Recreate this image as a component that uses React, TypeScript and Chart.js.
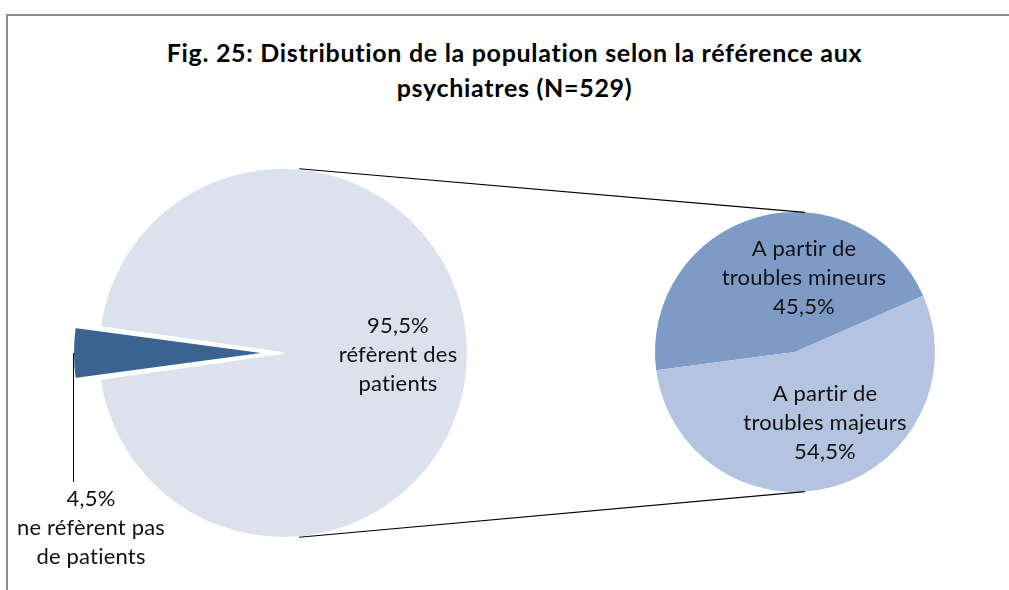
import React, { useEffect, useRef } from 'react';
import { Chart, registerables } from 'chart.js';

Chart.register(...registerables);

// ---- data ----
const titleLines = ['Fig. 25: Distribution de la population selon la référence aux', 'psychiatres (N=529)'];

const mainCategories = ['ne réfèrent pas de patients', 'réfèrent des patients'];
const mainValues = [4.5, 95.5];
const mainLabelText = [['ne réfèrent pas', 'de patients'], ['réfèrent des', 'patients']];

const subCategories = ['A partir de troubles mineurs', 'A partir de troubles majeurs'];
const subValues = [45.5, 54.5];
const subLabelText = [['A partir de', 'troubles mineurs'], ['A partir de', 'troubles majeurs']];

// ---- styles ----
const MAIN_COLORS = ['#3B6392', '#DCE1EE'];
const SUB_COLORS = ['#7E9BC8', '#B4C3DF'];
const FONT_FAMILY = 'Lato, "Open Sans", sans-serif';
const LABEL_FONT = `22px ${FONT_FAMILY}`;
const LINE_H = 29;
const EXPLODE_PX = 25;

const fmt = (v: number) => `${v.toFixed(1).replace('.', ',')}%`;

function explodeOffsetFor(value: number, total: number) {
  const circ = (value / total) * Math.PI * 2;
  const fix = 1 - Math.sin(Math.min(Math.PI, circ));
  return (EXPLODE_PX * 4) / (1 + fix);
}

function drawLines(ctx: CanvasRenderingContext2D, lines: string[], x: number, y: number) {
  ctx.save();
  ctx.font = LABEL_FONT;
  (ctx as any).letterSpacing = '0.2px';
  ctx.fillStyle = '#111';
  ctx.textAlign = 'center';
  ctx.textBaseline = 'alphabetic';
  lines.forEach((l, i) => ctx.fillText(l, x, y + i * LINE_H));
  ctx.restore();
}

export default function App() {
  const mainRef = useRef<HTMLCanvasElement>(null);
  const subRef = useRef<HTMLCanvasElement>(null);

  useEffect(() => {
    const total = mainValues.reduce((a, b) => a + b, 0);
    const smallDeg = (mainValues[0] / total) * 360;

    const mainLabels = {
      id: 'mainLabels',
      afterDatasetsDraw(chart: any) {
        const ctx = chart.ctx as CanvasRenderingContext2D;
        const arcs = chart.getDatasetMeta(0).data as any[];
        const a0 = arcs[0];
        const cx = a0.x, cy = a0.y, r = a0.outerRadius;
        const mid = (a0.startAngle + a0.endAngle) / 2;
        const px = cx + Math.cos(mid) * (r + EXPLODE_PX);
        const py = cy + Math.sin(mid) * (r + EXPLODE_PX);
        ctx.save();
        ctx.strokeStyle = '#000';
        ctx.lineWidth = 1;
        ctx.beginPath();
        ctx.moveTo(Math.round(px) + 0.5, py);
        ctx.lineTo(Math.round(px) + 0.5, py + 129);
        ctx.stroke();
        ctx.restore();
        drawLines(ctx, [fmt(mainValues[0]), ...mainLabelText[0]], px + 18, py + 153);
        drawLines(ctx, [fmt(mainValues[1]), ...mainLabelText[1]], cx + 115, cy - 20);
      },
    };

    const mainChart = new Chart(mainRef.current!, {
      type: 'pie',
      data: {
        labels: mainCategories,
        datasets: [
          {
            data: mainValues,
            backgroundColor: MAIN_COLORS,
            borderColor: '#ffffff',
            borderWidth: 2,
            offset: [explodeOffsetFor(mainValues[0], total), 0],
            radius: 185,
            rotation: 270 - smallDeg / 2,
          } as any,
        ],
      },
      options: {
        responsive: false,
        maintainAspectRatio: false,
        animation: false,
        layout: { padding: 0 },
        plugins: { legend: { display: false }, tooltip: { enabled: false }, title: { display: false } },
      },
      plugins: [mainLabels],
    });

    const subLabels = {
      id: 'subLabels',
      afterDraw(chart: any) {
        const ctx = chart.ctx as CanvasRenderingContext2D;
        const arcs = chart.getDatasetMeta(0).data as any[];
        const cx = arcs[0].x, cy = arcs[0].y, r = arcs[0].outerRadius;
        drawLines(ctx, [...subLabelText[0], fmt(subValues[0])], cx + 9, cy - 96);
        drawLines(ctx, [...subLabelText[1], fmt(subValues[1])], cx + 30, cy + 49);
        // connector lines from main pie
        const m = mainChart.getDatasetMeta(0).data[1] as any;
        const mcx = m.x, mcy = m.y, mr = m.outerRadius;
        const d2r = Math.PI / 180;
        ctx.save();
        ctx.strokeStyle = '#000';
        ctx.lineWidth = 1.1;
        [-1, 1].forEach((s) => {
          ctx.beginPath();
          ctx.moveTo(mcx + mr * Math.cos(s * 85 * d2r), mcy + mr * Math.sin(s * 85 * d2r));
          ctx.lineTo(cx + r * Math.cos(s * 86 * d2r), cy + r * Math.sin(s * 86 * d2r));
          ctx.stroke();
        });
        ctx.restore();
      },
    };

    const subChart = new Chart(subRef.current!, {
      type: 'pie',
      data: {
        labels: subCategories,
        datasets: [
          {
            data: subValues,
            backgroundColor: SUB_COLORS,
            borderWidth: 0,
            radius: 140,
            rotation: 262.5,
          } as any,
        ],
      },
      options: {
        responsive: false,
        maintainAspectRatio: false,
        animation: false,
        layout: { padding: 0 },
        plugins: { legend: { display: false }, tooltip: { enabled: false }, title: { display: false } },
      },
      plugins: [subLabels],
    });

    return () => {
      subChart.destroy();
      mainChart.destroy();
    };
  }, []);

  return (
    <div style={{ position: 'fixed', left: 0, top: 0, width: 1009, height: 590, overflow: 'hidden', background: '#fff' }}>
      <div
        style={{
          position: 'absolute', left: 6, top: 14, width: 2000, height: 2000,
          borderTop: '2px solid #8C8C8C', borderLeft: '2px solid #8C8C8C',
        }}
      />
      <div
        style={{
          position: 'absolute', left: 7, top: 35, width: 1015, textAlign: 'center',
          font: `bold 25px ${FONT_FAMILY}`, lineHeight: '35px', letterSpacing: '0.7px',
          fontVariantLigatures: 'none', color: '#000', whiteSpace: 'nowrap',
        }}
      >
        {titleLines.map((t, i) => (<div key={i}>{t}</div>))}
      </div>
      <canvas ref={mainRef} width={566} height={706} style={{ position: 'absolute', left: 0, top: 0, width: 566, height: 706 }} />
      <canvas ref={subRef} width={1590} height={704} style={{ position: 'absolute', left: 0, top: 0, width: 1590, height: 704 }} />
    </div>
  );
}
